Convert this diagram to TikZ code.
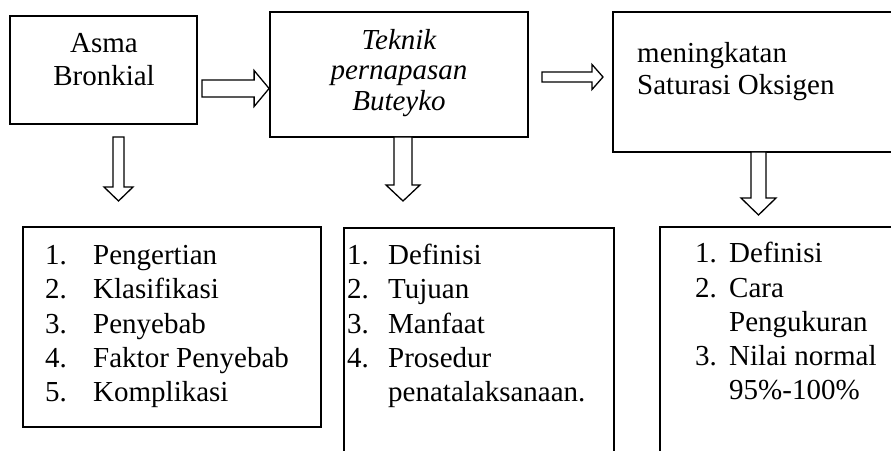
\documentclass[tikz,border=0pt]{standalone}
\usepackage{fontspec}
\setmainfont{Liberation Serif}
\usetikzlibrary{calc}
\usetikzlibrary{positioning}
\tikzset{box/.style={draw=black,line width=1.8pt,inner sep=0pt}}
\tikzset{txt/.style={inner sep=0pt,font=\fontsize{29}{33}\selectfont}}
\tikzset{txtit/.style={inner sep=0pt,font=\fontsize{29}{33}\selectfont\itshape}}
\tikzset{hollow/.style={draw=black,line width=1.3pt,fill=white,line join=miter}}

% hollow block arrows: from, to, half shaft, half head, head length
\newcommand{\rightblock}[5]{
\draw[hollow] let \p1=(#1), \p2=(#2) in
  (\x1,\y1+#3) -- (\x2-#5,\y1+#3) -- (\x2-#5,\y1+#4) -- (\x2,\y1)
  -- (\x2-#5,\y1-#4) -- (\x2-#5,\y1-#3) -- (\x1,\y1-#3) -- cycle;
}
\newcommand{\downblock}[5]{
\draw[hollow] let \p1=(#1), \p2=(#2) in
  (\x1-#3,\y1) -- (\x1-#3,\y2+#5) -- (\x1-#4,\y2+#5) -- (\x1,\y2)
  -- (\x1+#4,\y2+#5) -- (\x1+#3,\y2+#5) -- (\x1+#3,\y1) -- cycle;
}

\begin{document}
\begin{tikzpicture}[x=1pt,y=1pt]
\useasboundingbox (0,0) rectangle (891,450);
\clip (0,0) rectangle (891,450);

% top row
\node[box,minimum width=187pt,minimum height=108pt] (asma) at (103.5,380) {};
\node[box,minimum width=258pt,minimum height=125pt] (teknik) at (399,375.5) {};
\node[box,minimum width=307pt,minimum height=140pt] (saturasi) at (766.5,368) {};

\node[txt,anchor=base] (asma1) at (104,397) {Asma};
\node[txt,anchor=base] (asma2) at (104,364) {Bronkial};
\foreach \w [count=\i] in {Teknik,pernapasan,Buteyko} {
	\node[txtit,anchor=base] (tek\i) at (399,{431-30.5*\i}) {\w};
}
\foreach \w [count=\i] in {meningkatan,Saturasi Oksigen} {
	\node[txt,anchor=base west] (sat\i) at (637,{419-32*\i}) {\w};
}

% bottom row
\node[box,minimum width=298pt,minimum height=200pt] (listA) at (172,123) {};
\node[box,minimum width=270pt,minimum height=252pt] (listB) at (479,96) {};
\node[box,minimum width=260pt,minimum height=253pt] (listC) at (790,96.5) {};

\foreach \n / \w [count=\i] in {1./Pengertian,2./Klasifikasi,3./Penyebab,4./Faktor Penyebab,5./Komplikasi} {
	\node[txt,anchor=base west] (an\i) at (45,{219-34*\i}) {\n};
	\node[txt,anchor=base west] (at\i) at (93,{219-34*\i}) {\w};
}
\foreach \n / \w [count=\i] in {1./Definisi,2./Tujuan,3./Manfaat,4./Prosedur,/penatalaksanaan.} {
	\node[txt,anchor=base west] (bn\i) at (347,{219-34*\i}) {\n};
	\node[txt,anchor=base west] (bt\i) at (388,{219-34*\i}) {\w};
}
\foreach \n / \w [count=\i] in {1./Definisi,2./Cara,/Pengukuran,3./Nilai normal,/95\%-100\%} {
	\node[txt,anchor=base west] (cn\i) at (695,{221-34*\i}) {\n};
	\node[txt,anchor=base west] (ct\i) at (729,{221-34*\i}) {\w};
}

% arrows
\coordinate (r1s) at (202,361.5);
\coordinate (r1e) at (teknik.west |- r1s);
\rightblock{r1s}{r1e}{8.5pt}{18pt}{15pt}
\coordinate (r2s) at (542,373);
\coordinate (r2e) at (603,373);
\rightblock{r2s}{r2e}{5pt}{12.5pt}{11pt}
\coordinate (d1s) at (118.5,313);
\coordinate (d1e) at (118.5,249);
\downblock{d1s}{d1e}{5.5pt}{14.5pt}{14pt}
\coordinate (d2s) at (403,313);
\coordinate (d2e) at (403,249);
\downblock{d2s}{d2e}{9pt}{17pt}{16pt}
\coordinate (d3s) at (758.5,298);
\coordinate (d3e) at (758.5,235);
\downblock{d3s}{d3e}{7.5pt}{17.5pt}{17pt}
\end{tikzpicture}
\end{document}
